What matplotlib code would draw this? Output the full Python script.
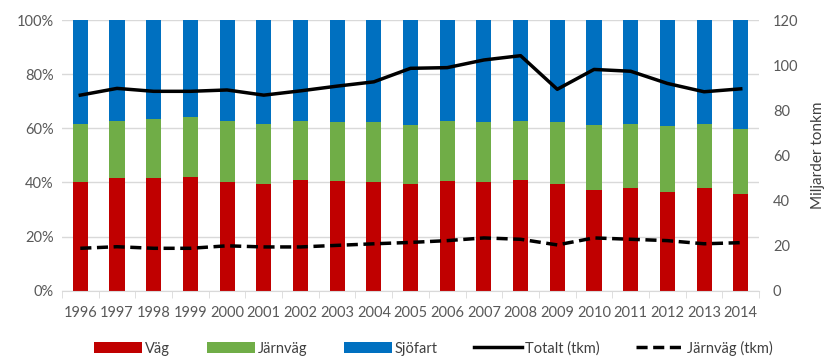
import numpy as np
import matplotlib.pyplot as plt
from matplotlib.ticker import FuncFormatter

plt.rcParams['font.family'] = ['Lato', 'DejaVu Sans']

# andelar per trafikslag (%) och transportarbete (miljarder tonkm)
years = ['1996', '1997', '1998', '1999', '2000', '2001', '2002', '2003', '2004', '2005',
         '2006', '2007', '2008', '2009', '2010', '2011', '2012', '2013', '2014']
vag = [40.0, 41.5, 41.5, 42.1, 40.0, 39.4, 41.0, 40.5, 40.0, 39.4,
       40.5, 40.0, 41.0, 39.5, 37.3, 37.9, 36.3, 37.9, 35.7]
jarnvag_top = [61.7, 62.8, 63.3, 64.0, 62.8, 61.7, 62.8, 62.2, 62.2, 61.2,
               62.8, 62.2, 62.8, 62.2, 61.2, 61.7, 60.7, 61.7, 59.6]
jarnvag = [t - v for t, v in zip(jarnvag_top, vag)]
sjofart = [100 - t for t in jarnvag_top]
totalt_tkm = [86.7, 89.7, 88.4, 88.4, 89.0, 86.7, 88.6, 90.7, 92.6, 98.6,
              98.9, 102.3, 104.2, 89.3, 98.1, 97.3, 91.9, 88.2, 89.5]
jarnvag_tkm = [18.8, 19.5, 18.8, 18.8, 19.9, 19.4, 19.4, 20.1, 20.8, 21.4,
               22.2, 23.4, 22.8, 20.3, 23.4, 22.8, 22.2, 20.8, 21.3]

gray = '#595959'
x = np.arange(len(years))

fig = plt.figure(figsize=(8.26, 3.58), dpi=100)
ax = fig.add_axes([0.075, 0.188, 0.844, 0.756])

w = 0.41
b1 = ax.bar(x, vag, w, color='#C00000', label='Väg', zorder=2)
b2 = ax.bar(x, jarnvag, w, bottom=vag, color='#70AD47', label='Järnväg', zorder=2)
b3 = ax.bar(x, sjofart, w, bottom=jarnvag_top, color='#0070C0', label='Sjöfart', zorder=2)

ax.set_xlim(-0.5, len(years) - 0.5)
ax.set_ylim(0, 100)
ax.set_yticks(range(0, 101, 20))
ax.yaxis.set_major_formatter(FuncFormatter(lambda v, p: f'{int(v)}%'))
ax.grid(axis='y', color='#D9D9D9', linewidth=1, zorder=0)
ax.set_xticks(x)
ax.set_xticklabels(years)
ax.set_xticks(np.arange(-0.5, len(years)), minor=True)
ax.tick_params(axis='x', which='major', length=0, pad=11, colors=gray, labelsize=10.5)
ax.tick_params(axis='x', which='minor', length=5, color='#D9D9D9')
ax.tick_params(axis='y', length=0, colors=gray, labelsize=10.5, pad=6)
for s in ['top', 'right', 'left']:
    ax.spines[s].set_visible(False)
ax.spines['bottom'].set_color('#D9D9D9')

ax2 = ax.twinx()
l1, = ax2.plot(x, totalt_tkm, color='black', linewidth=2.5, label='Totalt (tkm)')
l2, = ax2.plot(x, jarnvag_tkm, color='black', linewidth=2.5, linestyle=(0, (3.2, 1.6)),
               label='Järnväg (tkm)')
ax2.set_ylim(0, 120)
ax2.set_yticks(range(0, 121, 20))
ax2.tick_params(axis='y', length=0, colors=gray, labelsize=10.5, pad=10)
for s in ax2.spines.values():
    s.set_visible(False)
ax2.set_ylabel('Miljarder tonkm', fontsize=11, color='#404040', labelpad=9)

fig.legend(handles=[b1, b2, b3, l1, l2], loc='lower center', bbox_to_anchor=(0.525, -0.03),
           ncol=5, frameon=False, fontsize=10.5, handlelength=3.3, handleheight=0.75,
           columnspacing=2.5, handletextpad=0.2, labelcolor='#404040')

fig.savefig('out.png', dpi=100)
